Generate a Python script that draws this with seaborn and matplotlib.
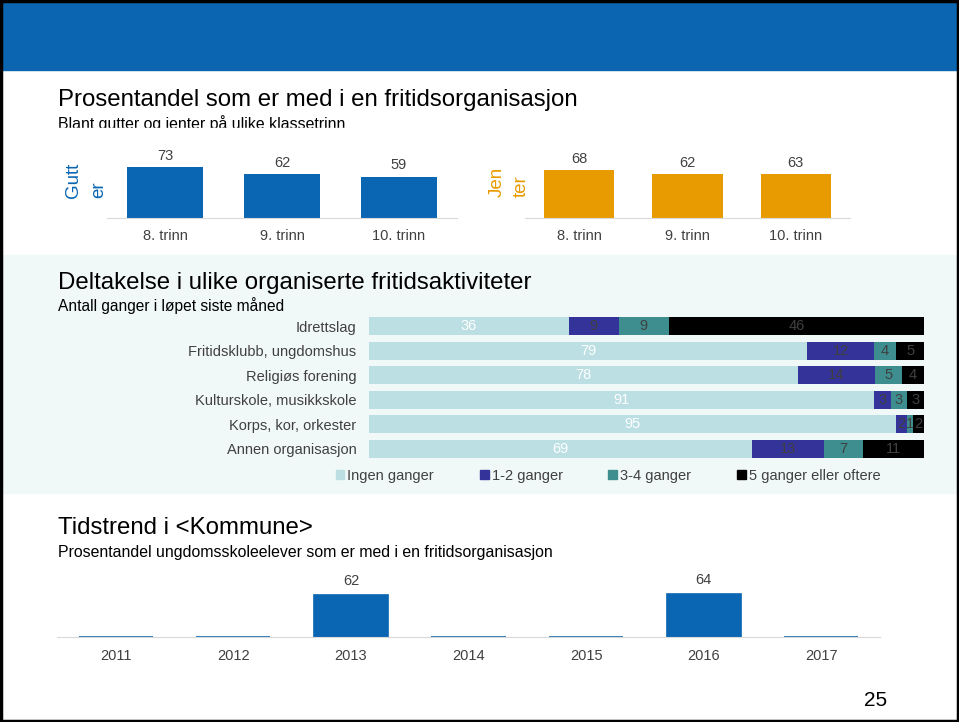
import matplotlib
matplotlib.use("Agg")
import matplotlib.pyplot as plt
import matplotlib.patches as mpatches
import seaborn as sns
import numpy as np
import pandas as pd

sns.set_style("white")
plt.rcParams['font.family'] = ['Liberation Sans', 'DejaVu Sans']

# data
trinn = ["8. trinn", "9. trinn", "10. trinn"]
gutter = [73, 62, 59]
jenter = [68, 62, 63]

aktiviteter = ["Idrettslag", "Fritidsklubb, ungdomshus", "Religiøs forening",
               "Kulturskole, musikkskole", "Korps, kor, orkester", "Annen organisasjon"]
ingen = [36, 79, 78, 91, 95, 69]
en_to = [9, 12, 14, 3, 2, 13]
tre_fire = [9, 4, 5, 3, 1, 7]
fem_pluss = [46, 5, 4, 3, 2, 11]
serier = ["Ingen ganger", "1-2 ganger", "3-4 ganger", "5 ganger eller oftere"]

aar = ["2011", "2012", "2013", "2014", "2015", "2016", "2017"]
andel = [0, 0, 62, 0, 0, 64, 0]

BLUE = "#0a66b2"
ORANGE = "#e89b00"
GREY = "#404040"
stack_colors = ["#bbdfe3", "#333399", "#3e8e8f", "#000000"]

W, H = 959, 722
fig = plt.figure(figsize=(W / 100, H / 100), dpi=100)


def px(x0, y0, x1, y1):
    return [x0 / W, 1 - y1 / H, (x1 - x0) / W, (y1 - y0) / H]


def ftext(x, y, s, **kw):
    fig.text(x / W, 1 - y / H, s, **kw)


# backgrounds (behind the axes)
fig.patches.append(mpatches.Rectangle((0, 1 - 70 / H), 1, 70 / H, transform=fig.transFigure,
                                      color="#0b65b0", zorder=-2))
fig.patches.append(mpatches.Rectangle((0, 1 - 493 / H), 1, 238 / H, transform=fig.transFigure,
                                      color="#f1f9f8", zorder=-2))


def small_bars(ax, labels, vals, color, scale_top):
    sns.barplot(x=labels, y=vals, color=color, width=0.65, ax=ax, saturation=1, linewidth=0)
    ax.set_ylim(0, scale_top)
    ax.bar_label(ax.containers[0], fontsize=10.5, color=GREY, padding=3)
    sns.despine(ax=ax, left=True)
    ax.spines['bottom'].set_color("#d9d9d9")
    ax.set_yticks([])
    ax.set_xlabel("")
    ax.set_ylabel("")
    ax.tick_params(axis='x', length=0, labelsize=10.5, labelcolor=GREY, pad=8)
    ax.patch.set_alpha(0)


# top section
ftext(58, 100, "Prosentandel som er med i en fritidsorganisasjon", fontsize=17.3, color="black",
      va="center")
ftext(58, 124, "Blant gutter og jenter på ulike klassetrinn", fontsize=11.4, color="black",
      va="center")
fig.patches.append(mpatches.Rectangle((50 / W, 1 - 140 / H), 400 / W, 12 / H,
                                      transform=fig.transFigure, color="white", zorder=5))

ax1 = fig.add_axes(px(107, 145, 457, 218))
small_bars(ax1, trinn, gutter, BLUE, 104)
ftext(86, 180, "Gutt\ner", rotation=90, fontsize=13.5, color=BLUE, va="center", ha="center",
      multialignment="left", linespacing=1.6)

ax2 = fig.add_axes(px(525, 145, 850, 218))
small_bars(ax2, trinn, jenter, ORANGE, 104)
ftext(509, 182, "Jen\nter", rotation=90, fontsize=13.5, color=ORANGE, va="center", ha="center",
      multialignment="left", linespacing=1.55)

# middle section
ftext(58, 283, "Deltakelse i ulike organiserte fritidsaktiviteter", fontsize=17.3, color="black",
      va="center")
ftext(58, 306, "Antall ganger i løpet siste måned", fontsize=11.2, color="black", va="center")

ax3 = fig.add_axes(px(369, 314, 924, 461))
df = pd.DataFrame({"akt": aktiviteter, serier[0]: ingen, serier[1]: en_to,
                   serier[2]: tre_fire, serier[3]: fem_pluss})
raw = df[serier].values.astype(float)
norm = raw / raw.sum(axis=1, keepdims=True) * 100
cum = np.cumsum(norm, axis=1)
# stacked look: draw the cumulative totals from the longest to the shortest
for k in range(3, -1, -1):
    sns.barplot(x=cum[:, k], y=df["akt"], color=stack_colors[k], orient="h", width=0.72,
                ax=ax3, saturation=1, linewidth=0)
for i in range(len(aktiviteter)):
    for k in range(4):
        mid = cum[i, k] - norm[i, k] / 2
        ax3.text(mid, i, f"{int(raw[i, k])}", ha="center", va="center", fontsize=10.5,
                 color="white" if k == 0 else GREY)
ax3.set_xlim(0, 100)
ax3.set_xticks([])
ax3.set_xlabel("")
ax3.set_ylabel("")
sns.despine(ax=ax3, left=True, bottom=True)
ax3.tick_params(axis='y', length=0, labelsize=10.5, labelcolor=GREY, pad=9)
ax3.patch.set_alpha(0)

handles = [mpatches.Patch(color=c, label=s) for c, s in zip(stack_colors, serier)]
fig.legend(handles=handles, loc="center", bbox_to_anchor=(608 / W, 1 - 476 / H), ncol=4,
           frameon=False, fontsize=10.5, handlelength=0.6, handleheight=0.6, handletextpad=0.2,
           columnspacing=3.15, labelcolor=GREY)

# bottom section
ftext(58, 528, "Tidstrend i <Kommune>", fontsize=17.3, color="black", va="center")
ftext(58, 552, "Prosentandel ungdomsskoleelever som er med i en fritidsorganisasjon",
      fontsize=11.4, color="black", va="center")

ax4 = fig.add_axes(px(57, 572, 880, 637))
sns.barplot(x=aar, y=andel, color=BLUE, width=0.63, ax=ax4, saturation=1,
            edgecolor=BLUE, linewidth=1.2)
ax4.set_ylim(0, 96)
ax4.bar_label(ax4.containers[0], labels=["" if v == 0 else str(v) for v in andel],
              fontsize=10.5, color=GREY, padding=5)
sns.despine(ax=ax4, left=True)
ax4.spines['bottom'].set_color("#d9d9d9")
ax4.set_yticks([])
ax4.set_xlabel("")
ax4.set_ylabel("")
ax4.tick_params(axis='x', length=0, labelsize=10.5, labelcolor=GREY, pad=9)
ax4.patch.set_alpha(0)

ftext(876, 701, "25", fontsize=15, color="black", ha="center", va="center")

# slide frame
fig.patches.append(mpatches.Rectangle((0.0015, 0.002), 0.997, 0.996, transform=fig.transFigure,
                                      fill=False, edgecolor="black", linewidth=2.5, zorder=10))

fig.savefig("out.png", dpi=100)
